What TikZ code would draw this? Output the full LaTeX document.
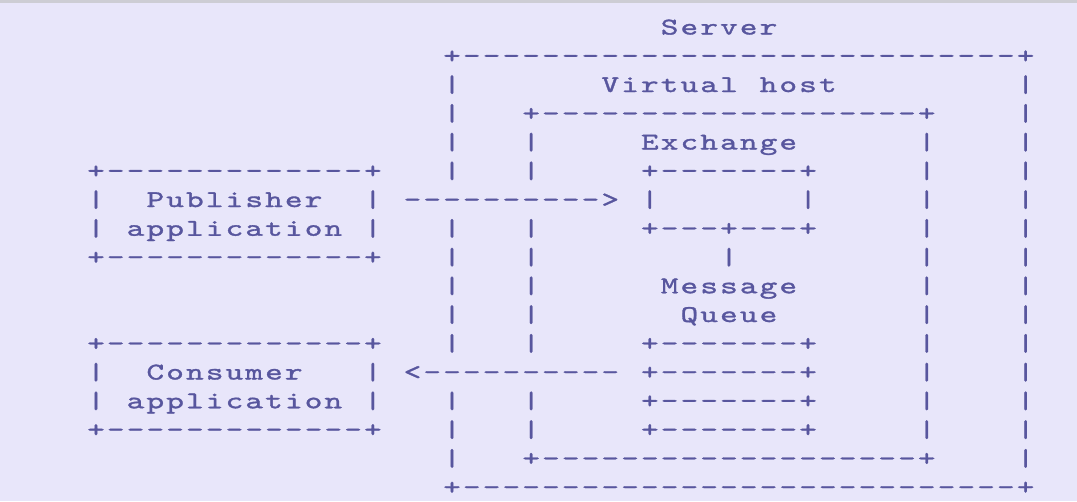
\documentclass[tikz,border=0pt]{standalone}
\usepackage{fontspec}
\newfontfamily\ascfont[FakeBold=1.3,FakeStretch=1.4]{lmmono10-regular.otf}
\definecolor{bg}{RGB}{232,230,250}
\definecolor{ink}{RGB}{88,86,158}
\definecolor{topbar}{RGB}{205,205,212}
\newlength\asciipitch
\setlength\asciipitch{19.78pt}
\makeatletter
% set every character of a run in its own fixed-width cell
\def\ascrun#1{\ascrun@i#1\@nil}
\def\ascrun@i#1{\ifx#1\@nil\else\makebox[\asciipitch][c]{#1}\expandafter\ascrun@i\fi}
\makeatother
\tikzset{
  txt/.style={anchor=base west, inner sep=0pt, outer sep=0pt, text=ink,
    font=\ascfont\fontsize{24}{24}\selectfont}
}
% place a run of characters: name, row, first column, text
\newcommand\seg[4]{\node[txt] (#1) at ({96+(#3)*19.78-9.89},{34.5+(#2)*28.75}) {\ascrun{#4}};}
\begin{document}
\begin{tikzpicture}[x=1pt,y=-1pt]
\fill[bg] (0,0) rectangle (1077,501);
\useasboundingbox (0,0) rectangle (1077,501);
\fill[topbar] (0,0) rectangle (1077,3);
% Server box
\seg{server}{0}{29}{Server}
\seg{srvtop}{1}{18}{+----------------------------+}
\seg{srvbot}{16}{18}{+----------------------------+}
\foreach \r in {2,3,4,5,7,8,9,10,11,13,14,15} {\seg{srvl\r}{\r}{18}{|}}
\foreach \r in {2,...,15} {\seg{srvr\r}{\r}{47}{|}}
% Virtual host box
\seg{vhA}{2}{26}{Virtual}
\seg{vhB}{2}{34}{host}
\seg{vhtop}{3}{22}{+-------------------+}
\seg{vhbot}{15}{22}{+-------------------+}
\foreach \r in {4,5,7,8,9,10,11,13,14} {\seg{vhl\r}{\r}{22}{|}}
\foreach \r in {4,...,14} {\seg{vhr\r}{\r}{42}{|}}
% Exchange
\seg{exch}{4}{28}{Exchange}
\seg{extop}{5}{28}{+-------+}
\seg{exl}{6}{28}{|}
\seg{exr}{6}{36}{|}
\seg{exbot}{7}{28}{+---+---+}
\seg{exlink}{8}{32}{|}
% Message queue
\seg{mqA}{9}{29}{Message}
\seg{mqB}{10}{30}{Queue}
\seg{q1}{11}{28}{+-------+}
\seg{q2}{12}{28}{+-------+}
\seg{q3}{13}{28}{+-------+}
\seg{q4}{14}{28}{+-------+}
% Publisher
\seg{pubtop}{5}{0}{+-------------+}
\seg{publ}{6}{0}{|}
\seg{pubA}{6}{3}{Publisher}
\seg{pubr}{6}{14}{|}
\seg{publ2}{7}{0}{|}
\seg{pubB}{7}{2}{application}
\seg{pubr2}{7}{14}{|}
\seg{pubbot}{8}{0}{+-------------+}
\seg{pubarrow}{6}{16}{---------->}
% Consumer
\seg{contop}{11}{0}{+-------------+}
\seg{conl}{12}{0}{|}
\seg{conA}{12}{3}{Consumer}
\seg{conr}{12}{14}{|}
\seg{conl2}{13}{0}{|}
\seg{conB}{13}{2}{application}
\seg{conr2}{13}{14}{|}
\seg{conbot}{14}{0}{+-------------+}
\seg{conarrow}{12}{16}{<----------}
\end{tikzpicture}
\end{document}
